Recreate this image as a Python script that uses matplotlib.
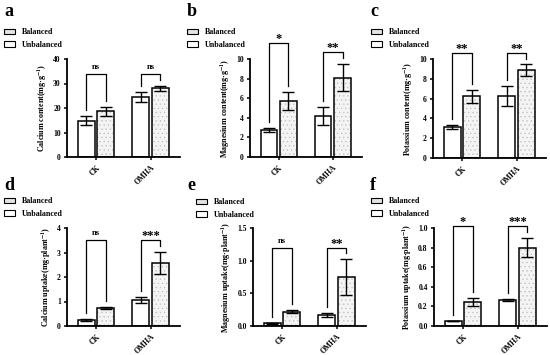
import matplotlib
matplotlib.use("Agg")
import matplotlib.pyplot as plt
from matplotlib.patches import Patch
import numpy as np

plt.rcParams["font.family"] = ["Liberation Serif", "DejaVu Serif"]
plt.rcParams["font.weight"] = "bold"
plt.rcParams["mathtext.fontset"] = "stix"
plt.rcParams["hatch.linewidth"] = 0.5

groups = ["CK", "OMHA"]

# a - Calcium content
ca_bal = [14.8, 24.5]
ca_bal_err = [1.8, 2.0]
ca_unbal = [18.6, 28.0]
ca_unbal_err = [2.0, 1.0]
ca_sig = ["ns", "ns"]

# b - Magnesium content
mg_bal = [2.8, 4.2]
mg_bal_err = [0.2, 0.95]
mg_unbal = [5.7, 8.1]
mg_unbal_err = [0.95, 1.4]
mg_sig = ["*", "**"]

# c - Potassium content
k_bal = [3.15, 6.3]
k_bal_err = [0.2, 1.0]
k_unbal = [6.25, 8.85]
k_unbal_err = [0.65, 0.6]
k_sig = ["**", "**"]

# d - Calcium uptake
ca_up_bal = [0.25, 1.05]
ca_up_bal_err = [0.03, 0.13]
ca_up_unbal = [0.73, 2.57]
ca_up_unbal_err = [0.05, 0.45]
ca_up_sig = ["ns", "***"]

# e - Magnesium uptake
mg_up_bal = [0.04, 0.17]
mg_up_bal_err = [0.006, 0.03]
mg_up_unbal = [0.22, 0.75]
mg_up_unbal_err = [0.02, 0.27]
mg_up_sig = ["ns", "**"]

# f - Potassium uptake
k_up_bal = [0.05, 0.265]
k_up_bal_err = [0.004, 0.01]
k_up_unbal = [0.245, 0.80]
k_up_unbal_err = [0.04, 0.1]
k_up_sig = ["*", "***"]

W, H = 550, 355
fig = plt.figure(figsize=(W / 100, H / 100), dpi=100)
DOT = "#c4c4c4"
FILL = "#f4f4f4"


def px_rect(x0, x1, top, bottom):
    return [x0 / W, 1 - bottom / H, (x1 - x0) / W, (bottom - top) / H]


def panel(rect, letter, letter_xy, leg_xy, bal, bal_err, unbal, unbal_err, sig,
          ymax, ystep, ylabel, bracket_tops, fmt="{:.0f}"):
    ax = fig.add_axes(rect)
    x = np.arange(len(groups))
    off, bw = 0.18, 0.31
    ekw = dict(elinewidth=1.0, capthick=1.0, zorder=4)
    ax.bar(x - off, bal, bw, yerr=bal_err, color="white", edgecolor="black",
           linewidth=1.1, capsize=4, error_kw=ekw, zorder=2)
    # dotted fill first, then black outline on top
    ax.bar(x + off, unbal, bw, color=FILL, edgecolor=DOT, linewidth=0,
           hatch="....", zorder=2)
    ax.bar(x + off, unbal, bw, yerr=unbal_err, fill=False, edgecolor="black",
           linewidth=1.1, capsize=4, error_kw=ekw, zorder=3)
    ax.set_xlim(-0.53, 1.54)
    ax.set_ylim(0, ymax)
    ticks = np.arange(0, ymax + ystep / 2, ystep)
    ax.set_yticks(ticks)
    ax.set_yticklabels([fmt.format(t) for t in ticks], fontsize=5.5, fontweight="bold")
    ax.set_xticks(x)
    ax.set_xticklabels(groups, rotation=45, ha="right", rotation_mode="anchor",
                       fontsize=5.5, fontweight="bold")
    ax.set_ylabel(ylabel, fontsize=5.8, fontweight="bold", labelpad=3)
    for s in ["top", "right"]:
        ax.spines[s].set_visible(False)
    for s in ["left", "bottom"]:
        ax.spines[s].set_linewidth(1.3)
    ax.tick_params(length=2.5, width=1.1, pad=2)

    pad = 0.06 * ymax
    for i in range(len(groups)):
        top = bracket_tops[i]
        yl = bal[i] + bal_err[i] + pad
        yr = unbal[i] + unbal_err[i] + pad
        ax.plot([i - off, i - off, i + off, i + off], [yl, top, top, yr],
                color="black", linewidth=0.9, clip_on=False)
        if sig[i] == "ns":
            ax.text(i, top + 0.03 * ymax, sig[i], ha="center", va="bottom",
                    fontsize=6, fontweight="bold")
        else:
            ax.text(i, top - 0.02 * ymax, sig[i], ha="center", va="bottom",
                    fontsize=9, fontweight="bold")

    fig.text(letter_xy[0] / W, 1 - letter_xy[1] / H, letter, fontsize=13,
             fontweight="bold", ha="left", va="center")
    handles = [Patch(facecolor="#e4e4e4", edgecolor="black", linewidth=0.8),
               Patch(facecolor="white", edgecolor="black", linewidth=0.8)]
    fig.legend(handles, ["Balanced", "Unbalanced"], loc="upper left",
               bbox_to_anchor=(leg_xy[0] / W, 1 - leg_xy[1] / H), frameon=False,
               fontsize=5.8, handlelength=1.4, handleheight=0.6, handletextpad=0.8,
               labelspacing=0.6, borderaxespad=0, borderpad=0)
    return ax


panel(px_rect(67, 180, 59, 157), "a", (4, 12), (4, 28), ca_bal, ca_bal_err, ca_unbal,
      ca_unbal_err, ca_sig, 40, 10, "Calcium content(mg·g$^{-1}$)", [34, 34])
panel(px_rect(250, 362, 59, 157), "b", (187, 12), (187, 28), mg_bal, mg_bal_err, mg_unbal,
      mg_unbal_err, mg_sig, 10, 2, "Magnesium content(mg·g$^{-1}$)", [11.6, 10.7])
panel(px_rect(433, 546, 59, 158), "c", (370, 12), (371, 28), k_bal, k_bal_err, k_unbal,
      k_unbal_err, k_sig, 10, 2, "Potassium content(mg·g$^{-1}$)", [10.6, 10.6])
panel(px_rect(67, 180, 228, 326), "d", (4, 186), (4, 197), ca_up_bal, ca_up_bal_err,
      ca_up_unbal, ca_up_unbal_err, ca_up_sig, 4, 1,
      "Calcium uptake(mg·plant$^{-1}$)", [3.5, 3.5])
panel(px_rect(253, 366, 228, 326), "e", (187, 186), (196, 198), mg_up_bal, mg_up_bal_err,
      mg_up_unbal, mg_up_unbal_err, mg_up_sig, 1.5, 0.5,
      "Magnesium uptake(mg·plant$^{-1}$)", [1.19, 1.19], fmt="{:.1f}")
panel(px_rect(434, 547, 228, 326), "f", (370, 186), (371, 197), k_up_bal, k_up_bal_err,
      k_up_unbal, k_up_unbal_err, k_up_sig, 1.0, 0.2,
      "Potassium uptake(mg·plant$^{-1}$)", [1.02, 1.02], fmt="{:.1f}")

fig.savefig("out.png", dpi=100)
